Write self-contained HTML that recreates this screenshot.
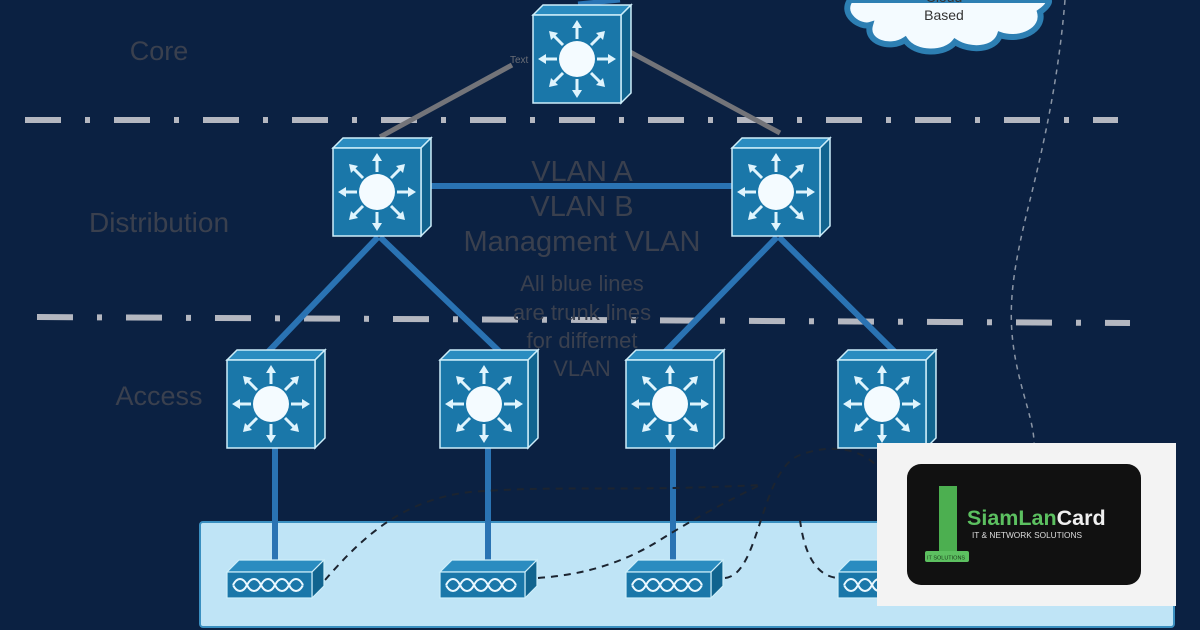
<!DOCTYPE html>
<html><head><meta charset="utf-8"><style>
html,body{margin:0;padding:0;background:#0b2142;}
svg{display:block}
text{font-family:"Liberation Sans",sans-serif;}
</style></head><body>
<svg width="1200" height="630" viewBox="0 0 1200 630" xmlns="http://www.w3.org/2000/svg">
<defs>
<symbol id="sw" viewBox="0 0 100 100" width="100" height="100" overflow="visible">
 <polygon points="0,12 10,2 98,2 88,12" fill="#2a8cc0" stroke="#cdeefa" stroke-width="1.5"/>
 <polygon points="88,12 98,2 98,90 88,100" fill="#11648f" stroke="#cdeefa" stroke-width="1.5"/>
 <rect x="0" y="12" width="88" height="88" fill="#1a77a9" stroke="#cdeefa" stroke-width="1.5"/>
 <circle cx="44" cy="56" r="18" fill="#f4fbff"/>
 <g stroke="#dff4fd" stroke-width="3" fill="none">
  <line x1="44" y1="36" x2="44" y2="22"/><line x1="44" y1="76" x2="44" y2="90"/>
  <line x1="24" y1="56" x2="10" y2="56"/><line x1="64" y1="56" x2="78" y2="56"/>
  <line x1="30" y1="42" x2="20" y2="32"/><line x1="58" y1="42" x2="68" y2="32"/>
  <line x1="30" y1="70" x2="20" y2="80"/><line x1="58" y1="70" x2="68" y2="80"/>
 </g>
 <g fill="#dff4fd">
  <polygon points="44,17 39,25 49,25"/><polygon points="44,95 39,87 49,87"/>
  <polygon points="5,56 13,51 13,61"/><polygon points="83,56 75,51 75,61"/>
  <polygon points="16,28 25,30 18,37"/><polygon points="72,28 63,30 70,37"/>
  <polygon points="16,84 25,82 18,75"/><polygon points="72,84 63,82 70,75"/>
 </g>
</symbol>
<symbol id="br" viewBox="0 0 100 45" width="100" height="45" overflow="visible">
 <polygon points="0,14 12,2 97,2 85,14" fill="#2a8cc0" stroke="#cdeefa" stroke-width="1.2"/>
 <polygon points="85,14 97,2 97,28 85,40" fill="#11648f" stroke="#cdeefa" stroke-width="1.2"/>
 <rect x="0" y="14" width="85" height="26" fill="#1a77a9" stroke="#cdeefa" stroke-width="1.2"/>
 <path d="M6,27 C10,19 16,19 20,27 C24,35 30,35 34,27 C38,19 44,19 48,27 C52,35 58,35 62,27 C66,19 72,19 76,27 M6,27 C10,35 16,35 20,27 C24,19 30,19 34,27 C38,35 44,35 48,27 C52,19 58,19 62,27 C66,35 72,35 76,27" fill="none" stroke="#eaf8ff" stroke-width="2"/>
</symbol>
</defs>
<rect width="1200" height="630" fill="#0b2142"/>
<!-- cloud -->
<path d="M850,0 C840,15 860,28 870,25 C865,42 890,50 905,40 C915,55 945,55 955,42 C970,52 995,50 1000,35 C1020,42 1045,30 1040,12 C1050,5 1050,0 1048,0 Z" fill="#f4fbff" stroke="#2d7fb3" stroke-width="6"/>
<text x="944" y="20" font-size="14" fill="#333" text-anchor="middle">Based</text>
<text x="944" y="2" font-size="14" fill="#333" text-anchor="middle">Cloud</text>
<path d="M1065,0 C1060,60 1050,120 1030,200 C1010,280 1005,320 1020,380 C1030,420 1040,440 1030,470" fill="none" stroke="#8a95a5" stroke-width="1.5" stroke-dasharray="5,5"/>
<g stroke="#b4b7c0" stroke-width="6">
<line x1="25" y1="120" x2="1118" y2="120" stroke-dasharray="36,24,5,24"/>
<line x1="37" y1="317" x2="1130" y2="323" stroke-dasharray="36,24,5,24"/>
</g>
<g stroke="#737479" stroke-width="5">
<line x1="380" y1="137" x2="512" y2="65"/>
<line x1="630" y1="52" x2="780" y2="133"/>
</g>
<line x1="578" y1="4" x2="620" y2="0" stroke="#2a75b5" stroke-width="5"/>
<text x="510" y="63" font-size="10" fill="#6a6d75">Text</text>
<g stroke="#2a73b3" stroke-width="6">
<line x1="420" y1="186" x2="732" y2="186"/>
<line x1="378" y1="237" x2="268" y2="352"/>
<line x1="380" y1="237" x2="500" y2="352"/>
<line x1="777" y1="237" x2="665" y2="352"/>
<line x1="779" y1="237" x2="895" y2="352"/>
</g>
<g fill="#3a404e" text-anchor="middle">
<text x="159" y="60" font-size="27">Core</text>
<text x="159" y="232" font-size="28">Distribution</text>
<text x="159" y="405" font-size="27">Access</text>
<text x="582" y="181" font-size="29">VLAN A</text>
<text x="582" y="216" font-size="29">VLAN B</text>
<text x="582" y="251" font-size="29">Managment VLAN</text>
</g>
<g fill="#3a404e" font-size="22" text-anchor="middle">
<text x="582" y="291">All blue lines</text>
<text x="582" y="320">are trunk lines</text>
<text x="582" y="348">for differnet</text>
<text x="582" y="376">VLAN</text>
</g>
<rect x="200" y="522" width="974" height="105" rx="3" fill="#bfe4f6" stroke="#3a8fc0" stroke-width="2"/>
<g stroke="#2a73b3" stroke-width="6">
<line x1="275" y1="448" x2="275" y2="560"/>
<line x1="488" y1="448" x2="488" y2="560"/>
<line x1="673" y1="448" x2="673" y2="560"/>
</g>
<g fill="none" stroke="#1c2430" stroke-width="2" stroke-dasharray="7,6">
<path d="M325,580 C360,540 400,500 470,492 C560,485 620,492 760,485"/>
<path d="M538,578 C580,575 620,565 660,540 C700,515 730,500 760,485"/>
<path d="M725,578 C760,575 760,470 800,455 C840,440 870,455 880,470"/>
<path d="M800,520 C805,560 820,578 840,578"/>
</g>
<use href="#sw" x="533" y="3"/>
<use href="#sw" x="333" y="136"/>
<use href="#sw" x="732" y="136"/>
<use href="#sw" x="227" y="348"/>
<use href="#sw" x="440" y="348"/>
<use href="#sw" x="626" y="348"/>
<use href="#sw" x="838" y="348"/>
<use href="#br" x="227" y="558"/>
<use href="#br" x="440" y="558"/>
<use href="#br" x="626" y="558"/>
<use href="#br" x="838" y="558"/>
<rect x="877" y="443" width="299" height="163" fill="#f3f3f3"/>
<rect x="907" y="464" width="234" height="121" rx="14" fill="#111"/>
<rect x="939" y="486" width="18" height="65" fill="#4caf50"/>
<rect x="925" y="551" width="44" height="11" rx="2" fill="#5cc060"/>
<text x="927" y="559.5" font-size="5.5" fill="#1a3a1a">IT SOLUTIONS</text>
<text x="967" y="525" font-size="21.5" font-weight="bold" fill="#5cc060">SiamLan<tspan fill="#f0f0f0">Card</tspan></text>
<text x="972" y="538" font-size="8.3" fill="#ddd">IT &amp; NETWORK SOLUTIONS</text>
</svg>
</body></html>
